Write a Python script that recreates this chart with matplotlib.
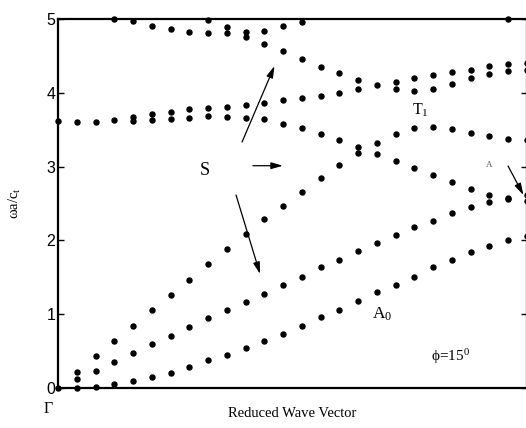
"""
Dispersion curves (phi = 15 deg), dots read off the reference figure.
"""

import numpy as np
import matplotlib
matplotlib.use('Agg')
import matplotlib.pyplot as plt

plt.rcParams['mathtext.fontset'] = 'custom'
plt.rcParams['mathtext.rm'] = 'Liberation Serif'
plt.rcParams['mathtext.it'] = 'Liberation Serif:italic'

SERIF = ['Liberation Serif', 'DejaVu Serif']

# --- branches: (column index, omega a / c_t) ---
a0_k = list(range(0, 26))
a0_w = [0.0, 0.004, 0.02, 0.05, 0.09, 0.149, 0.207, 0.285, 0.375, 0.443, 0.546, 0.637,
        0.736, 0.84, 0.958, 1.061, 1.178, 1.30, 1.396, 1.51, 1.635, 1.734, 1.84, 1.93,
        2.0, 2.06]

mid_k = list(range(1, 26))
mid_w = [0.118, 0.235, 0.352, 0.474, 0.592, 0.709, 0.827, 0.944, 1.061, 1.165, 1.28,
         1.396, 1.51, 1.635, 1.739, 1.856, 1.96, 2.07, 2.18, 2.26, 2.37, 2.45, 2.52,
         2.56, 2.53]

up_k = list(range(1, 26))
up_w = [0.213, 0.43, 0.637, 0.84, 1.061, 1.264, 1.47, 1.68, 1.888, 2.09, 2.29, 2.47,
        2.66, 2.84, 3.02, 3.18, 3.17, 3.076, 2.98, 2.88, 2.79, 2.70, 2.615, 2.58, 2.61]

band_k = list(range(0, 26))
band_w = [3.618, 3.60, 3.61, 3.63, 3.62, 3.63, 3.65, 3.66, 3.68, 3.676, 3.66, 3.645,
          3.575, 3.52, 3.446, 3.356, 3.27, 3.325, 3.446, 3.52, 3.53, 3.51, 3.46, 3.415,
          3.38, 3.36]

rise_k = list(range(4, 26))
rise_w = [3.67, 3.71, 3.74, 3.775, 3.79, 3.81, 3.83, 3.86, 3.90, 3.93, 3.96, 4.00,
          4.05, 4.10, 4.05, 4.03, 4.05, 4.12, 4.195, 4.26, 4.29, 4.31]

fall_k = [3, 4, 5, 6, 7, 8, 9, 10, 11, 12, 13, 14, 15, 16, 18, 19, 20, 21, 22, 23, 24, 25]
fall_w = [5.0, 4.97, 4.91, 4.87, 4.82, 4.81, 4.81, 4.76, 4.665, 4.56, 4.46, 4.355,
          4.27, 4.18, 4.15, 4.195, 4.24, 4.28, 4.31, 4.36, 4.385, 4.40]

top_k = [8, 9, 10, 11, 12, 13, 24]
top_w = [4.99, 4.89, 4.82, 4.84, 4.91, 4.96, 5.0]

branches = [(a0_k, a0_w), (mid_k, mid_w), (up_k, up_w), (band_k, band_w),
            (rise_k, rise_w), (fall_k, fall_w), (top_k, top_w)]

fig = plt.figure(figsize=(5.26, 4.28), dpi=100)
ax = fig.add_axes([58 / 526, 40 / 428, 469 / 526, 369 / 428])

for k, w in branches:
    ax.plot(k, w, 'o', color='black', ms=3.6, mec='black', clip_on=False)

ax.set_xlim(0, 25)
ax.set_ylim(0, 5)
ax.set_xticks([])
ax.set_yticks([0, 1, 2, 3, 4, 5])
ax.set_yticklabels(['0', '1', '2', '3', '4', '5'], family='Liberation Sans', fontsize=11.5)
ax.tick_params(axis='y', direction='in', length=4, width=1.0, right=True, pad=2)
for s in ax.spines.values():
    s.set_linewidth(1.6)

ax.set_xlabel('Reduced Wave Vector', family=SERIF, fontsize=10.5, labelpad=14)
ax.set_ylabel(r'ωa/c$_{\mathrm{t}}$', family=SERIF, fontsize=10.5, labelpad=17)

# --- annotations ---
ax.text(7.84, 2.95, 'S', family=SERIF, fontsize=13, ha='center', va='center')
ax.text(19.3, 3.76, r'T$_{\mathrm{1}}$', family=SERIF, fontsize=11.5, ha='center', va='center')
ax.text(22.97, 3.02, 'A', family=SERIF, fontsize=6.5, color='#555555', ha='center', va='center')
ax.text(17.3, 1.0, r'A$_{\mathrm{0}}$', family=SERIF, fontsize=12.5, ha='center', va='center')
ax.text(20.9, 0.42, r'ϕ=15$^{\mathrm{0}}$', family=SERIF, fontsize=11, ha='center', va='center')
ax.text(-0.53, -0.29, 'Γ', family=SERIF, fontsize=11.5, ha='center', va='center', clip_on=False)

arrows = [((9.81, 3.333), (11.54, 4.363)),
          ((10.39, 3.012), (11.99, 3.012)),
          ((9.49, 2.615), (10.77, 1.545)),
          ((23.99, 3.008), (24.81, 2.615))]
for start, end in arrows:
    ax.annotate('', xy=end, xytext=start,
                arrowprops=dict(arrowstyle='-|>,head_length=0.7,head_width=0.2',
                                color='black', lw=0.9, shrinkA=0, shrinkB=0))

plt.savefig('out.png', dpi=100)
